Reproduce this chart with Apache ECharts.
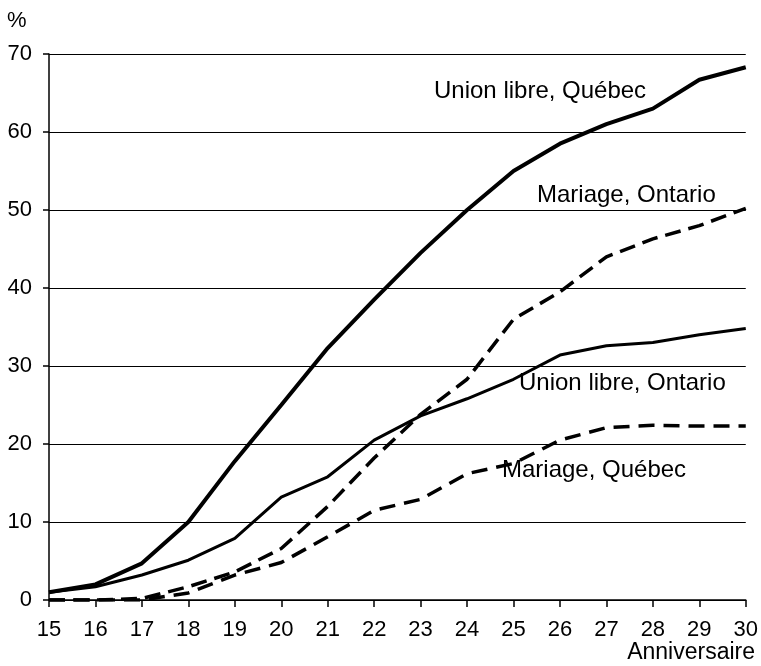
<!DOCTYPE html>
<html><head><meta charset="utf-8">
<script src="https://cdn.jsdelivr.net/npm/echarts@6/dist/echarts.min.js"></script>
<style>html,body{margin:0;padding:0;background:#fff}#c{width:761px;height:666px}</style>
</head><body><div id="c"></div>
<script>
const ages = [15,16,17,18,19,20,21,22,23,24,25,26,27,28,29,30];
const unionQuebec  = [1,2,4.7,10,17.8,25,32.3,38.5,44.5,50,55,58.5,61,63,66.7,68.3];
const unionOntario = [1,1.7,3.2,5.1,7.9,13.2,15.8,20.5,23.6,25.8,28.3,31.4,32.6,33,34,34.8];
const mariageOntario = [0,0,0.2,1.7,3.6,6.6,12,18.2,23.8,28.3,36,39.5,44,46.3,48,50.2];
const mariageQuebec  = [0,0,0,0.9,3.2,4.8,8.1,11.5,12.9,16.2,17.5,20.5,22.1,22.4,22.3,22.3];
const yTicks = [0,10,20,30,40,50,60,70];
const seriesNames = ['Union libre, Québec','Union libre, Ontario','Mariage, Ontario','Mariage, Québec'];

const pair = arr => ages.map((a,i)=>[a,arr[i]]);
const font = 'Liberation Sans, Arial, sans-serif';
const chart = echarts.init(document.getElementById('c'));
chart.setOption({
  animation:false,
  backgroundColor:'#fff',
  grid:{left:49,right:12,top:54,bottom:66},
  xAxis:{type:'value',min:15,max:30,interval:1,
    axisLine:{lineStyle:{color:'#000',width:1.5}},
    axisTick:{show:true,length:7,lineStyle:{color:'#000',width:1.5}},
    axisLabel:{color:'#000',fontSize:22,fontFamily:font,margin:19},
    splitLine:{show:false}},
  yAxis:{type:'value',min:0,max:70,interval:10,
    axisLine:{show:true,lineStyle:{color:'#000',width:1.5}},
    axisTick:{show:true,length:6,lineStyle:{color:'#000',width:1.5}},
    axisLabel:{color:'#000',fontSize:22,fontFamily:font,margin:17,
      formatter:v=>yTicks.includes(v)?String(v):''},
    splitLine:{show:true,lineStyle:{color:'#000',width:1.2}}},
  series:[
    {name:seriesNames[0],type:'line',data:pair(unionQuebec),showSymbol:false,
     lineStyle:{color:'#000',width:4},z:5},
    {name:seriesNames[1],type:'line',data:pair(unionOntario),showSymbol:false,
     lineStyle:{color:'#000',width:3},z:5},
    {name:seriesNames[2],type:'line',data:pair(mariageOntario),showSymbol:false,
     lineStyle:{color:'#000',width:3.5,type:[16,8]},z:5},
    {name:seriesNames[3],type:'line',data:pair(mariageQuebec),showSymbol:false,
     lineStyle:{color:'#000',width:3.5,type:[16,9]},z:5}
  ],
  graphic:[
    {type:'text',left:7,top:10,style:{text:'%',fontSize:22,fontFamily:font,fill:'#000'}},
    {type:'text',right:6,top:641,style:{text:'Anniversaire',fontSize:23,fontFamily:font,fill:'#000'}},
    {type:'text',x:434,y:79,z:10,style:{text:seriesNames[0],fontSize:24,fontFamily:font,fill:'#000'}},
    {type:'text',x:535,y:183,z:10,style:{text:seriesNames[2],fontSize:24,fontFamily:font,fill:'#000',backgroundColor:'#fff',padding:[0,2,2,2]}},
    {type:'text',x:519,y:371,z:10,style:{text:seriesNames[1],fontSize:24,fontFamily:font,fill:'#000'}},
    {type:'text',x:502,y:458,z:10,style:{text:seriesNames[3],fontSize:24,fontFamily:font,fill:'#000'}}
  ]
});
</script></body></html>
